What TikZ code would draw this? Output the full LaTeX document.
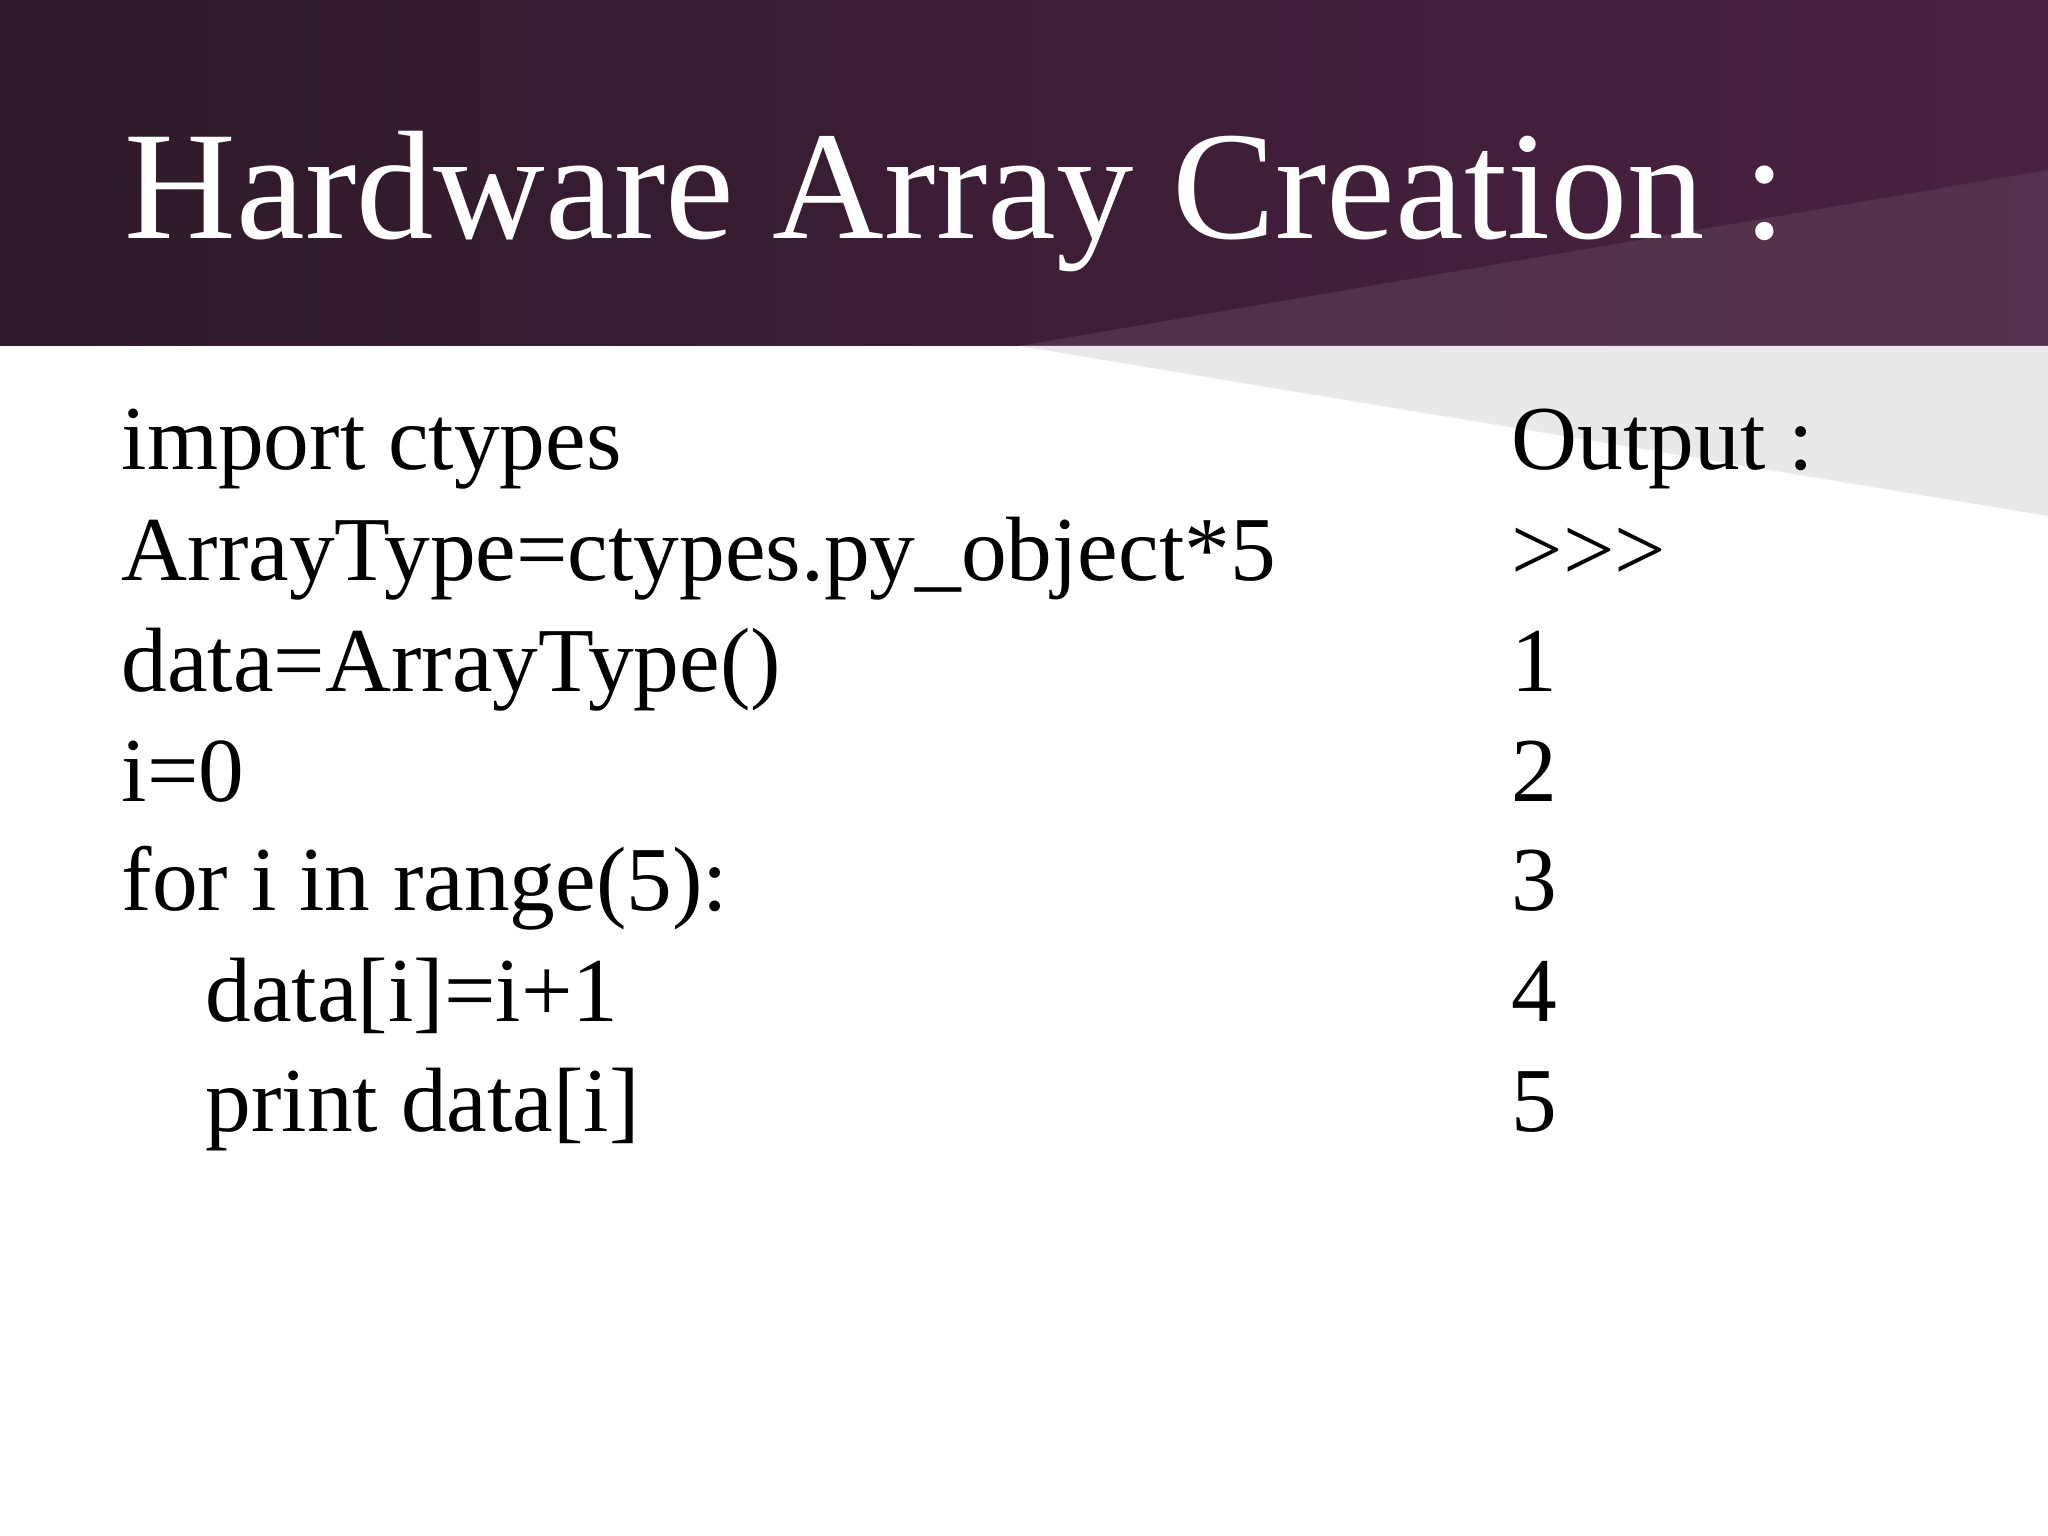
\documentclass[tikz,border=0pt]{standalone}
\usepackage{fontspec}
\setmainfont{Liberation Serif}
\definecolor{hdark}{HTML}{2E1A29}
\definecolor{hmid}{HTML}{4A2142}
\definecolor{hlight}{HTML}{5A3A52}
\definecolor{wedge}{HTML}{EAE8E9}
\tikzset{code/.style={anchor=base west,inner sep=0pt,font=\fontsize{26}{30}\selectfont}}
\begin{document}
\begin{tikzpicture}
\useasboundingbox (0,0) rectangle (20.48,-15.36);
\fill[white] (0,0) rectangle (20.48,-15.36);
\shade[left color=hdark,right color=hmid] (0,0) rectangle (20.48,-3.46);
\fill[hlight,opacity=0.7] (10.19,-3.46) -- (20.48,-1.70) -- (20.48,-3.46) -- cycle;
\fill[wedge] (10.19,-3.46) -- (20.48,-3.46) -- (20.48,-5.16) -- cycle;
\node[anchor=base west,inner sep=0pt,text=white,font=\fontsize{44}{50}\selectfont] (title) at (1.24,-2.39) {Hardware Array Creation :};
\node[code] (l1) at (1.21,-4.70) {import ctypes};
\node[code] (l2) at (1.21,-5.80) {ArrayType=ctypes.py\_object*5};
\node[code] (l3) at (1.21,-6.91) {data=ArrayType()};
\node[code] (l4) at (1.21,-8.01) {i=0};
\node[code] (l5) at (1.21,-9.11) {for i in range(5):};
\node[code] (l6) at (2.05,-10.21) {data[i]=i+1};
\node[code] (l7) at (2.05,-11.31) {print data[i]};
\node[code] (o0) at (15.11,-4.70) {Output :};
\node[code] (o1) at (15.11,-5.80) {>{}>{}>};
\node[code] (o2) at (15.11,-6.91) {1};
\node[code] (o3) at (15.11,-8.01) {2};
\node[code] (o4) at (15.11,-9.11) {3};
\node[code] (o5) at (15.11,-10.21) {4};
\node[code] (o6) at (15.11,-11.31) {5};
\end{tikzpicture}
\end{document}
